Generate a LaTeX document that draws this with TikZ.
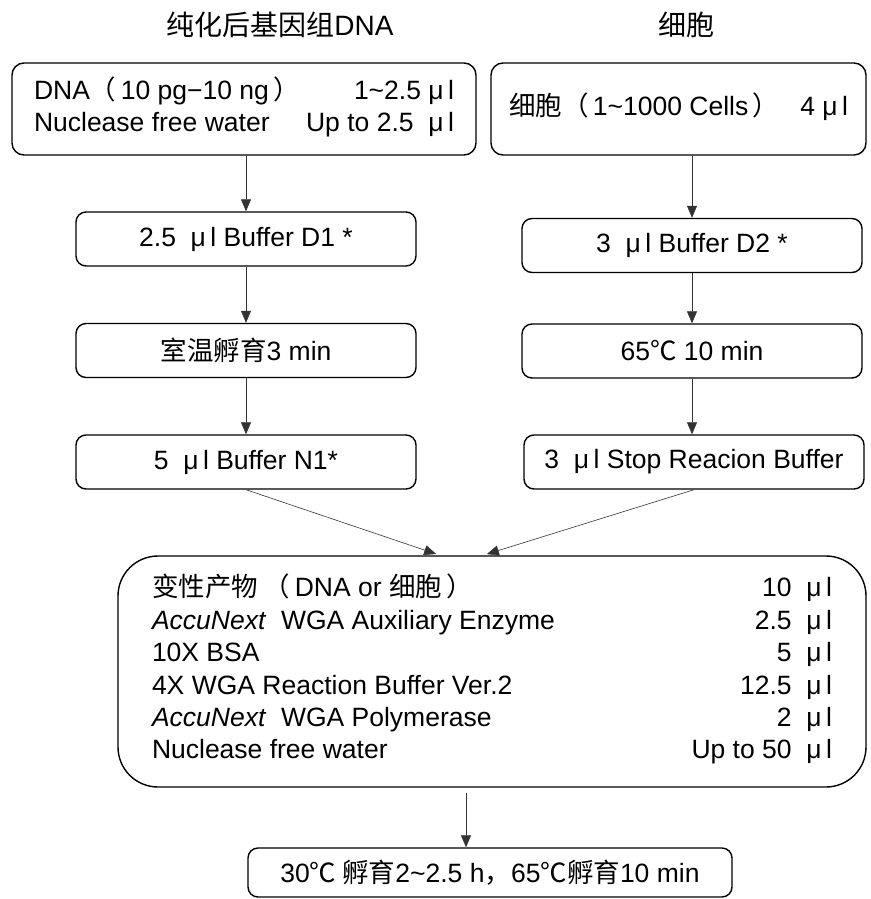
\documentclass[tikz,border=0pt]{standalone}
\usepackage{fontspec}
\setmainfont{Liberation Sans}
\newfontfamily\cjk{Noto Sans CJK SC}
\usetikzlibrary{arrows.meta}

\newcommand{\mcl}{μ\,l}

\begin{document}
\begin{tikzpicture}[x=1pt, y=-1pt,
	every node/.style={font=\fontsize{26.5}{32.4}\selectfont},
	box/.style={draw, line width=1.4pt, rounded corners=10pt, inner sep=0pt, align=center},
	step box/.style={box, minimum width=340pt, minimum height=54pt},
	arr/.style={-{Triangle[length=12pt,width=10pt]}, line width=0.6pt, draw=black!80}]
	\useasboundingbox (0,0) rectangle (870,899);
	% titles
	\node (titleA) at (280,25) {\fontsize{28}{30}\selectfont{\cjk 纯化后基因组}DNA};
	\node (titleB) at (686,25) {\fontsize{28}{30}\selectfont\cjk 细胞};
	% left column
	\node[box, rounded corners=12pt, minimum width=464pt, minimum height=92pt] (dna) at (244,109)
		{\begin{tabular*}{420pt}{@{}l@{\extracolsep{\fill}}r@{}}
		DNA{\cjk（}\,10 pg−10 ng\,{\cjk）} & 1\textasciitilde 2.5 \mcl\\
		Nuclease free water & Up to 2.5\ \ \mcl
		\end{tabular*}};
	\node[step box] (d1) at (246,239) {2.5\ \ \mcl\ Buffer D1 *};
	\node[step box] (rt) at (246,350.5) {{\cjk 室温孵育}3 min};
	\node[step box] (n1) at (246,462) {5\ \ \mcl\ Buffer N1*};
	% right column
	\node[box, rounded corners=12pt, minimum width=375pt, minimum height=92pt] (cell) at (678.5,109)
		{\begin{tabular*}{339pt}{@{}l@{\extracolsep{\fill}}r@{}}
		{\cjk 细胞（}\,1\textasciitilde 1000 Cells\,{\cjk）} & 4 \mcl
		\end{tabular*}};
	\node[step box] (d2) at (692,245.5) {3\ \ \mcl\ Buffer D2 *};
	\node[step box] (heat) at (692,351) {65{\cjk ℃} 10 min};
	\node[step box] (stop) at (694,462) {3\ \ \mcl\ Stop Reacion Buffer};
	% mix
	\node[box, rounded corners=40pt, minimum width=748pt, minimum height=231pt] (mix) at (492,671.5)
		{\begin{tabular*}{680pt}{@{}l@{\extracolsep{\fill}}r@{}}
		{\cjk 变性产物\ （}\,DNA or {\cjk 细胞}\,{\cjk）} & 10\ \ \mcl\\
		\textit{AccuNext}\ \ WGA Auxiliary Enzyme & 2.5\ \ \mcl\\
		10X BSA & 5\ \ \mcl\\
		4X WGA Reaction Buffer Ver.2 & 12.5\ \ \mcl\\
		\textit{AccuNext}\ \ WGA Polymerase & 2\ \ \mcl\\
		Nuclease free water & Up to 50\ \ \mcl
		\end{tabular*}};
	\node[box, minimum width=484pt, minimum height=49pt] (inc) at (490,872.5)
		{30{\cjk ℃ 孵育}2\textasciitilde 2.5 h{\cjk ，}65{\cjk ℃孵育}10 min};
	% arrows
	\draw[arr] (d1.north |- dna.south) -- (d1.north);
	\draw[arr] (d1) -- (rt);
	\draw[arr] (rt) -- (n1);
	\draw[arr] (d2.north |- cell.south) -- (d2.north);
	\draw[arr] (d2) -- (heat);
	\draw[arr] (heat) -- (stop.north -| heat.south);
	\draw[arr, shorten >=4pt] (n1.south) -- ([xshift=-52pt]mix.north);
	\draw[arr, shorten >=4pt] (stop.south) -- ([xshift=-9pt]mix.north);
	\draw[arr, shorten <=5pt] ([xshift=-26pt]mix.south) -- ([xshift=-26pt]mix.south |- inc.north);
\end{tikzpicture}
\end{document}
